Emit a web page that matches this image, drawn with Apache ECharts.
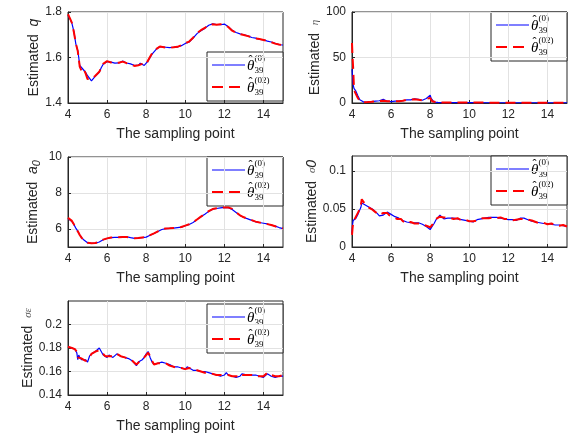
<!DOCTYPE html>
<html>
<head>
<meta charset="utf-8">
<script src="https://cdn.jsdelivr.net/npm/echarts@6/dist/echarts.min.js"></script>
<style>
  html, body { margin: 0; padding: 0; background: #fff; }
  #main { width: 570px; height: 436px; }
</style>
</head>
<body>
<div id="main"></div>
<script>
// sampling points and estimates
const xTicks = [4, 6, 8, 10, 12, 14];

// q
const qX = [4.0,4.1,4.2,4.3,4.4,4.5,4.55,4.6,4.7,4.8,4.9,5.0,5.05,5.1,5.2,5.3,5.4,5.5,5.6,5.7,5.8,5.9,6.0,6.1,6.2,6.3,6.4,6.5,6.6,6.7,6.8,6.9,7.0,7.2,7.4,7.5,7.6,7.7,7.8,7.9,8.0,8.1,8.2,8.3,8.4,8.5,8.6,8.7,8.8,9.0,9.2,9.4,9.6,9.8,10.0,10.2,10.4,10.6,10.8,11.0,11.2,11.4,11.6,11.8,12.0,12.2,12.4,12.6,12.8,13.0,13.2,13.4,13.6,13.8,14.0,14.2,14.4,14.6,14.8,15.0];
const qBlue = [1.785,1.77,1.75,1.715,1.66,1.63,1.6,1.565,1.555,1.545,1.535,1.52,1.515,1.52,1.497,1.505,1.518,1.525,1.535,1.555,1.57,1.578,1.582,1.585,1.58,1.572,1.575,1.574,1.576,1.578,1.584,1.58,1.576,1.572,1.565,1.56,1.565,1.575,1.573,1.565,1.568,1.585,1.6,1.615,1.625,1.635,1.64,1.648,1.648,1.645,1.643,1.645,1.646,1.652,1.662,1.668,1.685,1.705,1.718,1.728,1.742,1.748,1.745,1.744,1.747,1.735,1.72,1.71,1.704,1.7,1.695,1.688,1.685,1.68,1.678,1.672,1.668,1.662,1.656,1.655];
const qRed = [1.79,1.772,1.752,1.712,1.662,1.628,1.595,1.56,1.54,1.55,1.53,1.505,1.5,1.51,1.505,1.51,1.52,1.525,1.537,1.556,1.572,1.58,1.584,1.583,1.578,1.573,1.576,1.575,1.577,1.58,1.582,1.578,1.575,1.57,1.563,1.559,1.566,1.573,1.572,1.566,1.57,1.588,1.603,1.618,1.628,1.637,1.642,1.648,1.647,1.644,1.644,1.645,1.647,1.654,1.663,1.67,1.687,1.707,1.72,1.73,1.744,1.746,1.744,1.746,1.746,1.734,1.718,1.709,1.703,1.699,1.694,1.689,1.684,1.681,1.677,1.673,1.667,1.661,1.657,1.654];

// eta
const etaX = [4.0,4.03,4.06,4.1,4.15,4.2,4.3,4.4,4.5,4.6,4.8,5.0,5.2,5.4,5.6,5.7,5.8,6.0,6.2,6.4,6.6,6.8,7.0,7.2,7.4,7.6,7.7,7.8,7.9,8.0,8.05,8.1,8.2,8.4,8.6,9,10,11,12,13,14,15];
const etaBlue = [37,28,20,16,15.5,13,8,3.5,1.5,1,1.2,1.5,2,2.5,4,3.5,2,1.5,2,2,2.5,3.5,3.5,4.5,4,3,4,5,7,8.5,5,3,1,0.6,0.5,0.5,0.4,0.3,0.3,0.3,0.3,0.3];
const etaRed = [66,50,38,17,12,10,5.5,2,1,0.8,1,1.3,1.8,2.3,2.5,2.5,2,1.8,1.8,2,2.5,3.5,3.8,4,3.5,3,3.5,4.5,5.5,5.5,4,2,0.8,0.5,0.5,0.5,0.5,0.4,0.4,0.4,0.4,0.4];

// a0
const aX = [4.0,4.1,4.2,4.3,4.4,4.5,4.6,4.7,4.8,4.9,5.0,5.2,5.4,5.6,5.8,6.0,6.2,6.4,6.6,6.8,7.0,7.2,7.4,7.6,7.8,8.0,8.2,8.4,8.6,8.8,9.0,9.2,9.4,9.6,9.8,10.0,10.2,10.4,10.6,10.8,11.0,11.2,11.4,11.6,11.8,12.0,12.2,12.4,12.6,12.8,13.0,13.2,13.4,13.6,13.8,14.0,14.2,14.4,14.6,14.8,15.0];
const aBlue = [6.58,6.52,6.42,6.25,6.05,5.88,5.68,5.52,5.4,5.3,5.24,5.2,5.21,5.28,5.4,5.47,5.52,5.53,5.53,5.56,5.57,5.52,5.48,5.5,5.52,5.55,5.65,5.75,5.86,5.97,6.02,6.04,6.05,6.08,6.1,6.18,6.25,6.36,6.52,6.68,6.82,6.98,7.1,7.14,7.17,7.2,7.18,7.08,6.92,6.75,6.64,6.56,6.48,6.4,6.36,6.32,6.28,6.22,6.16,6.08,6.02];
const aRed = [6.62,6.58,6.45,6.26,6.04,5.87,5.67,5.51,5.39,5.3,5.23,5.21,5.22,5.29,5.41,5.48,5.53,5.53,5.54,5.56,5.56,5.51,5.48,5.5,5.53,5.56,5.66,5.76,5.87,5.98,6.03,6.04,6.06,6.08,6.11,6.19,6.26,6.37,6.53,6.69,6.83,6.99,7.11,7.15,7.18,7.2,7.2,7.12,6.93,6.76,6.65,6.57,6.49,6.41,6.36,6.32,6.27,6.22,6.15,6.08,6.03];

// sigma_0
const s0X = [4.0,4.03,4.06,4.1,4.15,4.2,4.25,4.3,4.35,4.4,4.45,4.5,4.55,4.6,4.7,4.8,4.9,5.0,5.1,5.2,5.3,5.4,5.5,5.6,5.7,5.8,5.9,6.0,6.1,6.2,6.3,6.4,6.5,6.6,6.7,6.8,6.9,7.0,7.1,7.2,7.4,7.6,7.7,7.8,7.9,8.0,8.05,8.1,8.2,8.3,8.4,8.5,8.6,8.7,8.8,8.9,9.0,9.2,9.4,9.6,9.8,10.0,10.2,10.4,10.6,10.8,11.0,11.2,11.4,11.6,11.8,12.0,12.2,12.4,12.6,12.7,12.8,13.0,13.2,13.4,13.6,13.8,14.0,14.2,14.4,14.6,14.8,15.0];
const s0Blue = [0.018,0.03,0.035,0.033,0.036,0.038,0.04,0.043,0.046,0.047,0.052,0.058,0.06,0.057,0.055,0.054,0.052,0.051,0.049,0.047,0.044,0.041,0.04,0.042,0.044,0.046,0.044,0.043,0.041,0.04,0.038,0.038,0.036,0.035,0.034,0.033,0.032,0.032,0.033,0.032,0.032,0.03,0.029,0.027,0.025,0.023,0.024,0.027,0.031,0.036,0.039,0.042,0.04,0.037,0.039,0.038,0.038,0.038,0.037,0.036,0.035,0.034,0.033,0.036,0.037,0.038,0.039,0.039,0.039,0.038,0.037,0.036,0.036,0.035,0.038,0.039,0.038,0.036,0.034,0.033,0.032,0.031,0.031,0.03,0.029,0.029,0.028,0.027];
const s0Red = [0.016,0.025,0.032,0.035,0.037,0.04,0.042,0.045,0.047,0.05,0.055,0.063,0.062,0.059,0.056,0.053,0.051,0.05,0.048,0.046,0.045,0.042,0.041,0.045,0.043,0.045,0.042,0.041,0.04,0.039,0.037,0.036,0.037,0.034,0.032,0.031,0.033,0.033,0.032,0.031,0.031,0.03,0.03,0.028,0.027,0.026,0.027,0.029,0.033,0.037,0.038,0.04,0.041,0.039,0.038,0.039,0.037,0.037,0.038,0.035,0.036,0.034,0.034,0.035,0.038,0.038,0.038,0.039,0.038,0.039,0.037,0.037,0.035,0.036,0.037,0.038,0.037,0.036,0.035,0.033,0.031,0.032,0.03,0.031,0.029,0.028,0.029,0.027];

// sigma_epsilon
const seX = [4.0,4.2,4.35,4.45,4.5,4.55,4.6,4.7,4.8,4.9,5.0,5.1,5.2,5.3,5.4,5.5,5.6,5.7,5.8,5.9,6.0,6.1,6.2,6.3,6.4,6.5,6.6,6.7,6.8,6.9,7.0,7.1,7.2,7.3,7.4,7.5,7.6,7.7,7.8,7.9,8.0,8.1,8.2,8.3,8.4,8.5,8.6,8.8,9.0,9.2,9.4,9.6,9.8,10.0,10.1,10.2,10.4,10.6,10.8,11.0,11.2,11.4,11.6,11.8,12.0,12.1,12.2,12.4,12.6,12.8,12.9,13.0,13.2,13.4,13.6,13.8,14.0,14.1,14.2,14.3,14.4,14.6,14.8,15.0];
const seBlue = [0.181,0.18,0.179,0.176,0.17,0.174,0.172,0.17,0.171,0.17,0.168,0.173,0.175,0.176,0.177,0.178,0.18,0.177,0.174,0.173,0.172,0.174,0.173,0.172,0.173,0.175,0.175,0.173,0.172,0.172,0.172,0.171,0.171,0.169,0.167,0.165,0.168,0.169,0.17,0.172,0.175,0.177,0.172,0.168,0.166,0.167,0.167,0.168,0.167,0.166,0.164,0.164,0.163,0.162,0.164,0.163,0.161,0.161,0.16,0.16,0.159,0.158,0.157,0.156,0.157,0.159,0.157,0.156,0.155,0.156,0.158,0.157,0.157,0.157,0.157,0.156,0.155,0.156,0.158,0.157,0.156,0.155,0.156,0.156];
const seRed = [0.181,0.18,0.179,0.177,0.172,0.172,0.171,0.171,0.17,0.169,0.169,0.172,0.175,0.176,0.177,0.178,0.178,0.178,0.175,0.173,0.173,0.173,0.173,0.173,0.174,0.175,0.174,0.173,0.173,0.172,0.171,0.171,0.17,0.169,0.168,0.166,0.167,0.169,0.17,0.172,0.174,0.176,0.173,0.169,0.166,0.167,0.167,0.167,0.167,0.165,0.164,0.163,0.163,0.162,0.163,0.163,0.162,0.161,0.16,0.159,0.159,0.158,0.157,0.157,0.157,0.157,0.157,0.156,0.156,0.155,0.157,0.157,0.157,0.157,0.156,0.156,0.156,0.156,0.159,0.158,0.157,0.156,0.156,0.157];

const panels = [
  { x: qX, blue: qBlue, red: qRed, min: 1.4, max: 1.8, ticks: [1.4, 1.6, 1.8],
    name: 'Estimated  {q|q}', legendDy: 40 },
  { x: etaX, blue: etaBlue, red: etaRed, min: 0, max: 100, ticks: [0, 50, 100],
    name: 'Estimated  {s|η}', legendDy: 0 },
  { x: aX, blue: aBlue, red: aRed, min: 5, max: 10, ticks: [6, 8, 10],
    name: 'Estimated  {q|a}{sub|0}', legendDy: 0 },
  { x: s0X, blue: s0Blue, red: s0Red, min: 0, max: 0.12, ticks: [0, 0.05, 0.1],
    name: 'Estimated  {s|σ}{q|0}', legendDy: 0 },
  { x: seX, blue: seBlue, red: seRed, min: 0.14, max: 0.22, ticks: [0.14, 0.16, 0.18, 0.2],
    name: 'Estimated  {s|σ}{s|ε}', legendDy: 3 }
];

const grids = [
  { left: 68, top: 12, width: 215, height: 91 },
  { left: 352, top: 12, width: 215, height: 91 },
  { left: 68, top: 157, width: 215, height: 90 },
  { left: 352, top: 156, width: 215, height: 91 },
  { left: 68, top: 301, width: 215, height: 94 }
];

const FONT = 'Liberation Sans, Arial, sans-serif';
const SERIF = 'Liberation Serif, Times New Roman, serif';
const INK = '#262626';

const chart = echarts.init(document.getElementById('main'));

const xAxes = panels.map((p, i) => ({
  type: 'value', gridIndex: i, min: 4, max: 15,
  name: 'The sampling point', nameLocation: 'middle', nameGap: 24,
  nameTextStyle: { fontSize: 14, color: INK, fontFamily: FONT },
  axisLine: { show: true, lineStyle: { color: INK, width: 1 } },
  axisTick: { show: true, inside: true, length: 3, customValues: xTicks, lineStyle: { color: INK } },
  axisLabel: { customValues: xTicks, fontSize: 12, color: INK, fontFamily: FONT, margin: 6 },
  splitLine: { show: true, lineStyle: { color: '#e2e2e2', width: 1 } }
}));

const yAxes = panels.map((p, i) => ({
  type: 'value', gridIndex: i, min: p.min, max: p.max,
  name: p.name, nameLocation: 'middle', nameGap: i % 2 ? 28 : 26, nameRotate: 90,
  nameTextStyle: {
    fontSize: 14, color: INK, fontFamily: FONT,
    rich: {
      q: { fontSize: 14, fontStyle: 'italic', color: INK, fontFamily: FONT },
      s: { fontSize: 11, fontStyle: 'italic', color: '#555', fontFamily: SERIF },
      sub: { fontSize: 11, fontStyle: 'italic', color: INK, fontFamily: FONT, verticalAlign: 'bottom', padding: [6, 0, 0, 0] }
    }
  },
  axisLine: { show: true, lineStyle: { color: INK, width: 1 } },
  axisTick: { show: true, inside: true, length: 3, customValues: p.ticks, lineStyle: { color: INK } },
  axisLabel: { customValues: p.ticks, fontSize: 12, color: INK, fontFamily: FONT, margin: 6 },
  splitLine: { show: true, lineStyle: { color: '#e2e2e2', width: 1 } }
}));

const series = [];
panels.forEach((p, i) => {
  series.push({
    type: 'line', xAxisIndex: i, yAxisIndex: i, symbol: 'none', animation: false,
    data: p.x.map((v, k) => [v, p.blue[k]]),
    lineStyle: { color: '#0000ff', width: 1.2 }, z: 2
  });
  series.push({
    type: 'line', xAxisIndex: i, yAxisIndex: i, symbol: 'none', animation: false,
    data: p.x.map((v, k) => [v, p.red[k]]),
    lineStyle: { color: '#ff0000', width: 2, type: [10, 6] }, z: 3
  });
});

// legend boxes drawn by hand so the hat / sub / superscripts can be placed
function legendBox(g, dy) {
  const bx = g.left + g.width - 76;
  const by = g.top + dy;
  const txt = (x, y, s, size, italic) => ({
    type: 'text', x: x, y: y,
    style: { text: s, fontSize: size, fontStyle: italic ? 'italic' : 'normal', fontFamily: SERIF,
             fill: '#000', verticalAlign: 'middle', align: 'left' }
  });
  const entry = (cy, sup) => [
    txt(40, cy + 1, 'θ', 15, true),
    txt(41.5, cy - 4, 'ˆ', 12, false),
    txt(47.5, cy - 6, sup, 9, false),
    txt(47.5, cy + 6, '39', 9, false)
  ];
  return {
    type: 'group', x: bx, y: by, z: 100,
    children: [
      { type: 'rect', shape: { x: 0, y: 0, width: 76, height: 49 },
        style: { fill: '#fff', stroke: INK, lineWidth: 1 } },
      { type: 'line', shape: { x1: 5, y1: 13, x2: 38, y2: 13 }, style: { stroke: '#0000ff', lineWidth: 1.2 } },
      { type: 'line', shape: { x1: 5, y1: 35, x2: 38, y2: 35 }, style: { stroke: '#ff0000', lineWidth: 2, lineDash: [11, 6] } }
    ].concat(entry(13, '(0)'), entry(35, '(02)'))
  };
}

chart.setOption({
  animation: false,
  backgroundColor: '#fff',
  grid: grids.map(g => Object.assign({ show: true, borderColor: INK, borderWidth: 1, backgroundColor: '#fff' }, g)),
  xAxis: xAxes,
  yAxis: yAxes,
  series: series,
  graphic: panels.map((p, i) => legendBox(grids[i], p.legendDy))
});
</script>
</body>
</html>
